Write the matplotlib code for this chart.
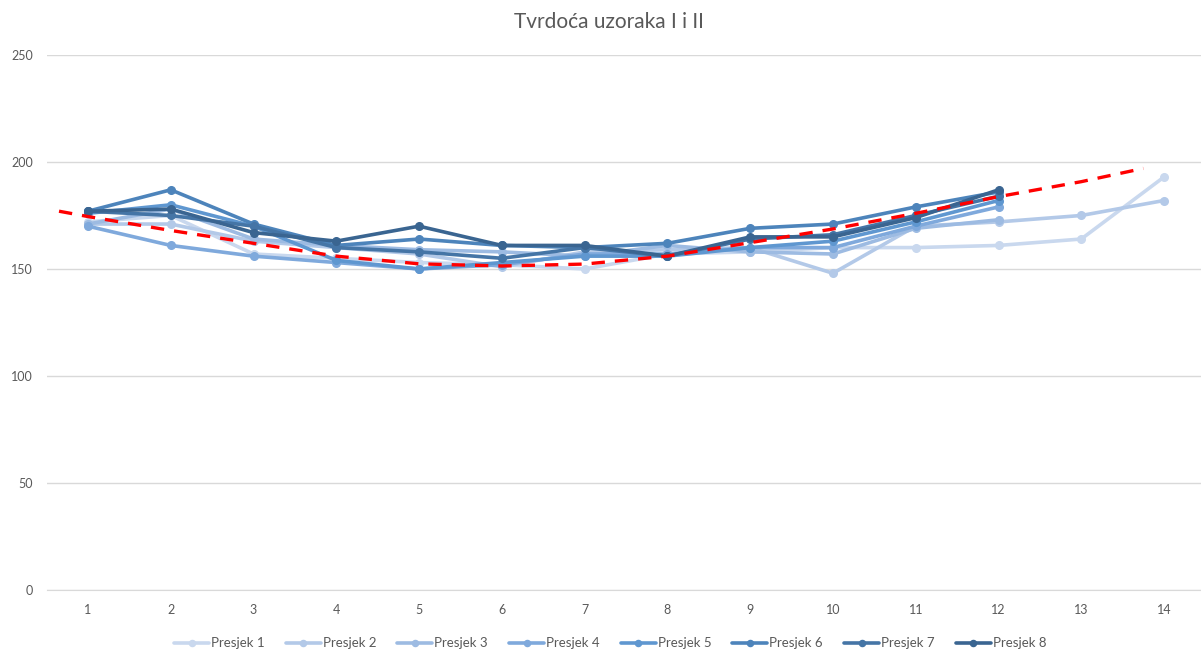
import numpy as np
import matplotlib.pyplot as plt

plt.rcParams['font.family'] = ['Lato', 'DejaVu Sans']

# hardness readings per cross-section (Presjek 1..8)
presjek_1 = [172, 175, 157, 155, 153, 152, 150, 157, 158, 160, 160, 161, 164, 193]
presjek_2 = [171, 171, 163, 160, 157, 151, 158, 159, 160, 148, 170, 172, 175, 182]
presjek_3 = [171, 178, 164, 161, 159, 158, 156, 161, 158, 157, 169, 173]
presjek_4 = [170, 161, 156, 153, 150, 152, 157, 157, 160, 160, 170, 179]
presjek_5 = [176, 180, 170, 154, 150, 153, 156, 156, 160, 163, 172, 182]
presjek_6 = [177, 187, 171, 161, 164, 161, 160, 162, 169, 171, 179, 186]
presjek_7 = [177, 175, 170, 160, 158, 155, 160, 156, 164, 166, 175, 184]
presjek_8 = [177, 178, 167, 163, 170, 161, 161, 156, 165, 165, 174, 187]
series = [presjek_1, presjek_2, presjek_3, presjek_4,
          presjek_5, presjek_6, presjek_7, presjek_8]
names = ['Presjek 1', 'Presjek 2', 'Presjek 3', 'Presjek 4',
         'Presjek 5', 'Presjek 6', 'Presjek 7', 'Presjek 8']
colors = ['#c9d8ee', '#b3c9e8', '#9dbbe2', '#7fa9dc',
          '#5f97d0', '#4d84bb', '#4575a6', '#3a6591']

# trend line
trend_x = [0.65, 1, 2, 3, 4, 5, 6, 7, 8, 9, 10, 11, 12, 13, 13.75]
trend_y = [177, 174.5, 168, 162, 156, 152.4, 151.4, 152.3, 156, 162.3,
           168.7, 176, 183.8, 190.8, 197]

fig = plt.figure(figsize=(12.01, 6.53), dpi=100)
ax = fig.add_axes([0.0388, 0.0965, 0.9649, 0.8193])

for vals, name, c in zip(series, names, colors):
    x = np.arange(1, len(vals) + 1)
    ax.plot(x, vals, color=c, lw=2.6, marker='o', ms=5.5,
            solid_capstyle='round', label=name, zorder=2)

ax.plot(trend_x, trend_y, color='#ff0000', lw=2.4, ls=(0, (4, 3)), zorder=3)

ax.set_xlim(0.5, 14.5)
ax.set_ylim(0, 250)
ax.set_xticks(np.arange(1, 15))
ax.set_yticks(np.arange(0, 251, 50))
ax.tick_params(length=0, labelsize=9, colors='#595959', pad=10)
ax.grid(axis='y', color='#d9d9d9', lw=1)
ax.set_axisbelow(True)
for s in ['top', 'right', 'left']:
    ax.spines[s].set_visible(False)
ax.spines['bottom'].set_color('#d9d9d9')

fig.text(0.507, 0.966, 'Tvrdoća uzoraka I i II', ha='center', va='center',
         fontsize=15, color='#595959')

fig.legend(loc='center', bbox_to_anchor=(0.508, 0.015), ncol=8, frameon=False,
           fontsize=9.5, labelcolor='#595959', handlelength=2.65,
           handletextpad=0.15, columnspacing=1.6, markerscale=0.8)

fig.savefig('out.png', dpi=100, facecolor='white')
